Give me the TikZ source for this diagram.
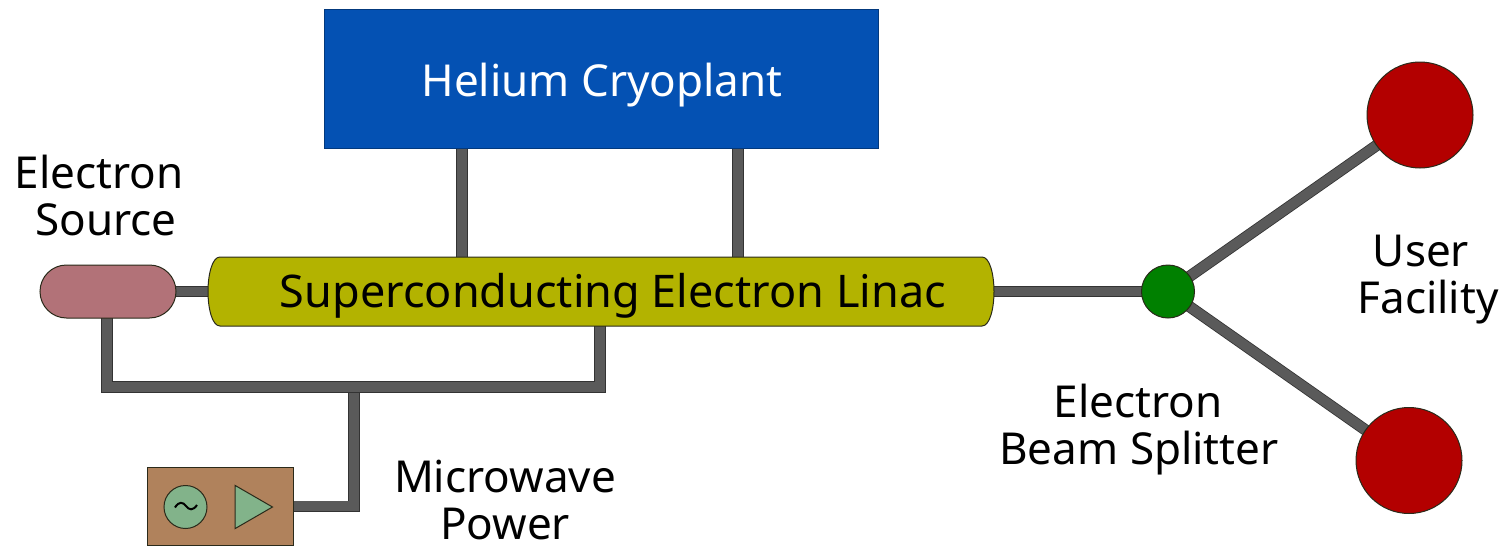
\documentclass[tikz,border=0pt]{standalone}
\usepackage{fontspec}
\setmainfont{Noto Sans}
\usetikzlibrary{shapes.misc,shapes.geometric,backgrounds,calc}
\definecolor{wire}{HTML}{5A5A5A}
\definecolor{wireedge}{HTML}{333333}
\definecolor{cryoblue}{HTML}{0451B3}
\definecolor{olive2}{HTML}{B3B300}
\definecolor{srcpink}{HTML}{B27278}
\definecolor{boxbrown}{HTML}{B0825C}
\definecolor{redball}{HTML}{B30000}
\definecolor{greenball}{HTML}{008000}
\definecolor{sage}{HTML}{82B38A}
\definecolor{edge}{HTML}{2A2A1A}
\tikzset{
  x=1pt,y=-1pt,
  wirelink/.style={draw=wireedge,line width=0.8pt,double=wire,double distance=9.8pt},
  lbl/.style={font=\fontsize{44}{47}\selectfont,anchor=base,inner sep=0pt,text=black},
  part/.style={draw=edge,line width=1pt,inner sep=0pt,outer sep=0pt},
  ball/.style={part,circle,fill=redball,minimum size=106pt},
}
\begin{document}
\begin{tikzpicture}
\useasboundingbox (0,0) rectangle (1505,546);
% shapes
\node[part,draw=cryoblue!70!black,fill=cryoblue,minimum width=554pt,minimum height=139pt,anchor=north west] (cryo) at (324,9) {};
\node[lbl,text=white] (cryotext) at (602,96) {Helium Cryoplant};
\node[part,draw=none,minimum width=786pt,minimum height=69pt,anchor=north west] (linac) at (208,257) {};
\draw[part,fill=olive2] (220,257) -- (982,257) .. controls (990,257) and (994,275) .. (994,291.5) .. controls (994,308) and (990,326) .. (982,326) -- (220,326) .. controls (212,326) and (208,308) .. (208,291.5) .. controls (208,275) and (212,257) .. (220,257) -- cycle;
\node[lbl,font=\fontsize{45}{47}\selectfont] (linactext) at (613,307) {Superconducting Electron Linac};
\node[part,rounded rectangle,fill=srcpink,minimum width=136pt,minimum height=53pt] (source) at (108,291.5) {};
\node[part,fill=boxbrown,minimum width=146pt,minimum height=78.5pt,anchor=north west] (mw) at (147,467) {};
\node[part,circle,fill=sage,minimum size=43pt] (osc) at (185.5,507) {};
\draw[line width=2pt,black] (175,507.5) .. controls (179,501) and (183,502) .. (186,506) .. controls (189,510) and (193,511) .. (197,505);
\node[part,regular polygon,regular polygon sides=3,shape border rotate=-90,fill=sage,minimum size=50pt] (amp) at (247.5,507) {};
\node[part,circle,fill=greenball,minimum width=53pt] (split) at (1168,291.5) {};
\node[ball] (ball1) at (1420,115) {};
\node[ball] (ball2) at (1409,460.5) {};
% connector waypoints
\coordinate (c1) at (462,0);
\coordinate (c2) at (738,0);
\coordinate (busl) at (107,387);
\coordinate (busr) at (600,387);
\coordinate (busm) at (354,387);
\coordinate (mwc) at (busm |- mw.east);
\begin{scope}[on background layer]
\draw[wirelink] (c1 |- cryo.south) -- (c1 |- linac.north);
\draw[wirelink] (c2 |- cryo.south) -- (c2 |- linac.north);
\draw[wirelink] (source.east) -- (linac.west);
\draw[wirelink] (linac.east) -- (split.center);
\draw[wirelink] (split.center) -- (ball1.center);
\draw[wirelink] (split.center) -- (ball2.center);
\draw[wirelink] (busm) -- (mwc) -- (mw.east);
\draw[wirelink] (busl |- source.south) -- (busl) -- (busr) -- (busr |- linac.south);
\end{scope}
% labels
\node[lbl] (t1a) at (99,188) {Electron};
\node[lbl] (t1b) at (106,235) {Source};
\node[lbl] (t2a) at (505,492) {Microwave};
\node[lbl] (t2b) at (505,539) {Power};
\node[lbl] (t3a) at (1138,417) {Electron};
\node[lbl] (t3b) at (1139,464) {Beam Splitter};
\node[lbl] (t4a) at (1421,266) {User};
\node[lbl] (t4b) at (1428,313) {Facility};
\end{tikzpicture}
\end{document}
